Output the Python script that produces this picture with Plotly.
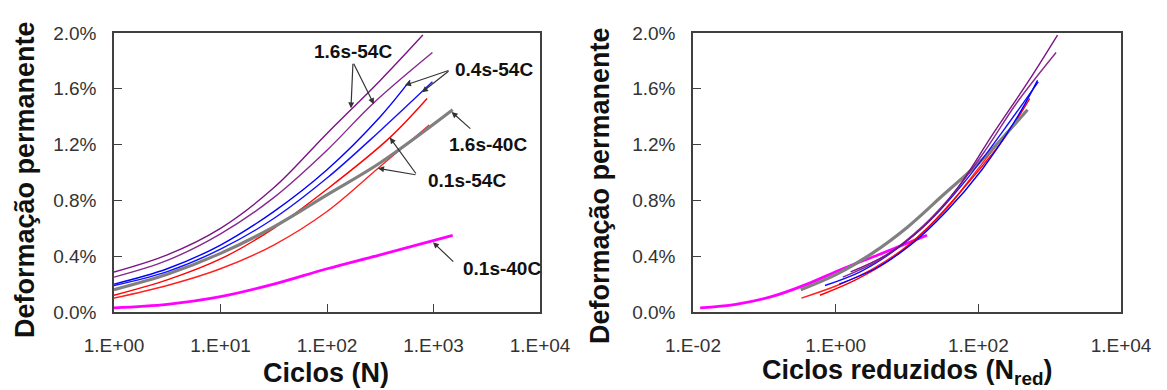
import numpy as np
import plotly.graph_objects as go

# ---------------- data (log10 of cycles, permanent strain in %) ----------------
logN_p1 = [0, 0.5, 1, 1.5, 2, 2.5, 2.9]
eps_p1 = [0.287, 0.41, 0.60, 0.89, 1.28, 1.66, 1.985]
logN_p2 = [0, 0.5, 1, 1.5, 2, 2.44, 2.99]
eps_p2 = [0.25, 0.37, 0.56, 0.82, 1.16, 1.50, 1.86]
logN_b1 = [0, 0.5, 1, 1.5, 2, 2.5, 2.78]
eps_b1 = [0.20, 0.31, 0.48, 0.72, 1.02, 1.40, 1.66]
logN_b2 = [0, 0.5, 1, 1.5, 2, 2.5, 2.99]
eps_b2 = [0.19, 0.29, 0.45, 0.67, 0.96, 1.30, 1.65]
logN_g = [0, 0.5, 1, 1.5, 2, 2.5, 3.18]
eps_g = [0.16, 0.27, 0.42, 0.61, 0.84, 1.07, 1.45]
logN_r1 = [0, 0.5, 1, 1.5, 2, 2.59, 2.94]
eps_r1 = [0.12, 0.23, 0.38, 0.60, 0.88, 1.25, 1.53]
logN_r2 = [0, 0.5, 1, 1.5, 2, 2.48, 2.96]
eps_r2 = [0.10, 0.19, 0.31, 0.48, 0.72, 1.03, 1.34]
logN_m = [0, 0.5, 1, 1.5, 2, 2.5, 3.18]
eps_m = [0.03, 0.055, 0.11, 0.20, 0.31, 0.41, 0.55]

# horizontal shift (log10 of shift factor) used for the reduced cycles
shift_p1, shift_p2 = 0.21, 0.10
shift_b1, shift_b2 = 0.05, -0.15
shift_g = -0.49
shift_r1, shift_r2 = -0.22, -0.48
shift_m = -1.90

y_tickvals = [0.0, 0.4, 0.8, 1.2, 1.6, 2.0]
y_ticktext = ["0.0%", "0.4%", "0.8%", "1.2%", "1.6%", "2.0%"]
x1_tickvals = [1, 10, 100, 1000, 10000]
x1_ticktext = ["1.E+00", "1.E+01", "1.E+02", "1.E+03", "1.E+04"]
x2_tickvals = [0.01, 1, 100, 10000]
x2_ticktext = ["1.E-02", "1.E+00", "1.E+02", "1.E+04"]

labels = ["1.6s-54C", "0.4s-54C", "1.6s-40C", "0.1s-54C", "0.1s-40C"]

series = [
    (logN_m, eps_m, shift_m, "#FF00FF", 2.8),
    (logN_r2, eps_r2, shift_r2, "#FF2020", 1.4),
    (logN_r1, eps_r1, shift_r1, "#FF0000", 1.4),
    (logN_g, eps_g, shift_g, "#808080", 3.2),
    (logN_b2, eps_b2, shift_b2, "#1010FF", 1.4),
    (logN_b1, eps_b1, shift_b1, "#0000FF", 1.4),
    (logN_p2, eps_p2, shift_p2, "#86288F", 1.4),
    (logN_p1, eps_p1, shift_p1, "#7B1485", 1.4),
]

fig = go.Figure()
for lg, ep, sh, col, w in series:
    lg = np.array(lg, dtype=float)
    fig.add_trace(go.Scatter(x=10 ** lg, y=ep, mode="lines",
                             line=dict(color=col, width=w, shape="spline", smoothing=1.0),
                             xaxis="x", yaxis="y", showlegend=False))
    fig.add_trace(go.Scatter(x=10 ** (lg + sh), y=ep, mode="lines",
                             line=dict(color=col, width=w, shape="spline", smoothing=1.0),
                             xaxis="x2", yaxis="y2", showlegend=False))

axis_common = dict(showline=True, linecolor="#404040", linewidth=1.5, mirror=True,
                   showgrid=False, zeroline=False, ticks="inside", ticklen=8,
                   tickcolor="#404040", tickwidth=1.3, automargin=False)
tick_font = dict(family="Liberation Sans", size=19, color="#333333")
xtick_font = dict(family="Liberation Sans Narrow, Liberation Sans", size=19, color="#333333")

fig.update_layout(
    width=1167, height=390, margin=dict(l=0, r=0, t=0, b=0),
    paper_bgcolor="white", plot_bgcolor="white",
    xaxis=dict(type="log", range=[0, 4], domain=[114 / 1167, 540 / 1167],
               tickmode="array", tickvals=x1_tickvals, ticktext=x1_ticktext,
               tickfont=xtick_font, ticklabelstandoff=15, anchor="y", **axis_common),
    yaxis=dict(range=[0, 2.0], domain=[0.2, 0.9154], tickmode="array",
               tickvals=y_tickvals, ticktext=y_ticktext, tickfont=tick_font,
               ticklabelstandoff=12, anchor="x", **axis_common),
    xaxis2=dict(type="log", range=[-2, 4], domain=[693 / 1167, 1121 / 1167],
                tickmode="array", tickvals=x2_tickvals, ticktext=x2_ticktext,
                tickfont=xtick_font, ticklabelstandoff=15, anchor="y2", **axis_common),
    yaxis2=dict(range=[0, 2.0], domain=[0.2, 0.9154], tickmode="array",
                tickvals=y_tickvals, ticktext=y_ticktext, tickfont=tick_font,
                ticklabelstandoff=12, anchor="x2", **axis_common),
)

title_font = dict(family="Liberation Sans", size=27, color="#111111")
title_kw = dict(xref="paper", yref="paper", xanchor="center", yanchor="middle",
                showarrow=False, font=title_font)
fig.add_annotation(text="<b>Deformação permanente</b>", x=25 / 1167,
                   y=(390 - 180) / 390, textangle=-90, **title_kw)
fig.add_annotation(text="<b>Deformação permanente</b>", x=600 / 1167,
                   y=(390 - 186) / 390, textangle=-90, **title_kw)
fig.add_annotation(text="<b>Ciclos (N)</b>", x=326 / 1167, y=(390 - 373) / 390, **title_kw)
fig.add_annotation(text="<b>Ciclos reduzidos (N<sub>red</sub>)</b>", x=907 / 1167,
                   y=(390 - 372) / 390, **title_kw)

# curve labels (log10 N, strain %)
label_pos = [(2.244, 1.864), (3.568, 1.735), (3.512, 1.204), (3.315, 0.946), (3.643, 0.315)]
lab_font = dict(family="Liberation Sans", size=19, color="#111111")
for txt, (lx, ly) in zip(labels, label_pos):
    fig.add_annotation(text="<b>" + txt + "</b>", x=lx, y=ly, xref="x", yref="y",
                       xanchor="center", yanchor="middle", showarrow=False, font=lab_font)

# arrows: (tail, head) in (log10 N, strain %)
arrows = [
    ((2.244, 1.79), (2.225, 1.46)),
    ((2.244, 1.79), (2.44, 1.49)),
    ((3.155, 1.735), (2.732, 1.625)),
    ((3.155, 1.735), (2.892, 1.575)),
    ((3.36, 1.305), (3.17, 1.434)),
    ((2.845, 0.982), (2.59, 1.25)),
    ((2.845, 0.982), (2.479, 1.03)),
    ((3.20, 0.351), (2.995, 0.50)),
]
for (tx, ty), (hx, hy) in arrows:
    fig.add_annotation(text="", x=hx, y=hy, ax=tx, ay=ty, xref="x", yref="y",
                       axref="x", ayref="y", showarrow=True, arrowhead=2,
                       arrowsize=1, arrowwidth=1.2, arrowcolor="#333333", standoff=0)

fig.write_html("out.html")
